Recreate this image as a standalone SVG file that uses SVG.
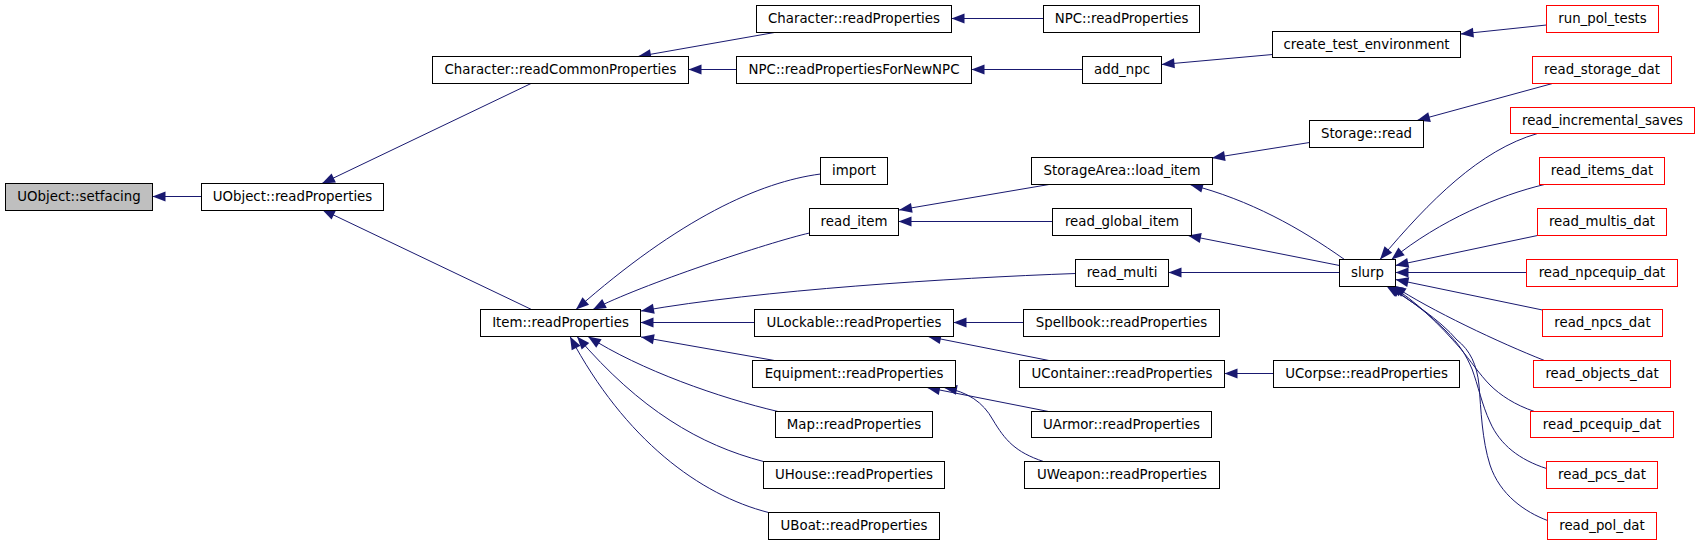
<svg xmlns="http://www.w3.org/2000/svg" width="1701" height="544" viewBox="0 0 1701 544">
<style>
.n rect{fill:#fff;stroke:#000;stroke-width:1}
.r rect{stroke:#f00}
.g rect{fill:#bfbfbf}
text{font-family:"DejaVu Sans","Liberation Sans",sans-serif;font-size:13.33px;text-anchor:middle;fill:#000}
.e path{fill:none;stroke:#191970;stroke-width:1;marker-end:url(#ah)}
</style>
<defs>
<marker id="ah" markerUnits="userSpaceOnUse" markerWidth="14" markerHeight="11" refX="13" refY="5" orient="auto" overflow="visible">
<path d="M0,0 L13,5 L0,10 z" fill="#191970"/>
</marker>
</defs>
<rect width="1701" height="544" fill="#fff"/>
<g class="e" id="edges">
<path d="M201.5,196.5 L152.5,196.5"/>
<path d="M531,83.5 L322,183.5"/>
<path d="M531.5,309.5 L322,209.5"/>
<path d="M774.5,32.5 L638,56.5"/>
<path d="M736.5,69.5 L688.5,69.5"/>
<path d="M1043.5,18.5 L951.5,18.5"/>
<path d="M1082.5,69.5 L971.5,69.5"/>
<path d="M1272.5,54.5 L1161.5,64.5"/>
<path d="M1546.5,25 L1460.5,34"/>
<path d="M820.5,174 C760,182 680,218 576,309.5"/>
<path d="M809.5,233 C770,242 640,285 593,309.5"/>
<path d="M1075.5,273.5 C950,278 760,290 641,311"/>
<path d="M754.5,322.5 L640.5,322.5"/>
<path d="M774.5,360.5 L641,337"/>
<path d="M778,411.5 C720,398 640,370 588,336.5"/>
<path d="M763.5,461.5 C700,445 640,410 577,336.5"/>
<path d="M768.5,512.5 C700,495 625,440 570,336.5"/>
<path d="M1049,184.5 L899,210"/>
<path d="M1052.5,221.5 L898.5,221.5"/>
<path d="M1023.5,322.5 L953.5,322.5"/>
<path d="M1049,360.5 L928,336.5"/>
<path d="M1048.5,411.5 L927,387.5"/>
<path d="M1043.5,461.5 C1015,452 1005,440 993,420 C983,402 968,392 944,387.5"/>
<path d="M1273.5,373.5 L1224.5,373.5"/>
<path d="M1309.5,142.5 L1212,158"/>
<path d="M1552.5,83.5 L1417,120.5"/>
<path d="M1344.5,259.5 C1300,228 1250,200 1190,184.5"/>
<path d="M1339.5,265.5 L1188,235.5"/>
<path d="M1339.5,272.5 L1168.5,272.5"/>
<path d="M1537.5,133.5 C1480,150 1430,200 1380,259.5"/>
<path d="M1544.5,184.5 C1500,195 1440,220 1391.5,259.5"/>
<path d="M1537.5,235.5 L1395.5,265.5"/>
<path d="M1526.5,272.5 L1395.5,272.5"/>
<path d="M1542.5,310 L1395.5,279.5"/>
<path d="M1544.5,360.5 C1500,343 1430,310 1393,285.5"/>
<path d="M1534.5,411.5 C1515,405 1500,395 1490,385 C1480,375 1470,360 1460,348 C1440,325 1415,300 1390,285.5"/>
<path d="M1546.5,468.5 C1520,460 1500,445 1490,422 C1482,405 1478,385 1472,369 C1466,355 1460,345 1445,330 C1425,310 1405,297 1388,285.5"/>
<path d="M1547.5,520.5 C1525,512 1500,495 1490,465 C1482,440 1481,410 1479,385 C1477,365 1470,350 1457,340 C1440,320 1410,300 1386,285.5"/>
</g>
<g class="n g" id="n_setfacing"><rect x="5.5" y="183.5" width="147" height="27"/><text x="79" y="201">UObject::setfacing</text></g>
<g class="n" id="n_uobj_rp"><rect x="201.5" y="183.5" width="182" height="27"/><text x="292.5" y="201">UObject::readProperties</text></g>
<g class="n" id="n_char_rcp"><rect x="432.5" y="56.5" width="256" height="27"/><text x="560.5" y="74">Character::readCommonProperties</text></g>
<g class="n" id="n_char_rp"><rect x="756.5" y="5.5" width="195" height="27"/><text x="854" y="23">Character::readProperties</text></g>
<g class="n" id="n_npc_rpfnn"><rect x="736.5" y="56.5" width="235" height="27"/><text x="854" y="74">NPC::readPropertiesForNewNPC</text></g>
<g class="n" id="n_npc_rp"><rect x="1043.5" y="5.5" width="156" height="27"/><text x="1121.5" y="23">NPC::readProperties</text></g>
<g class="n" id="n_add_npc"><rect x="1082.5" y="56.5" width="79" height="27"/><text x="1122" y="74">add_npc</text></g>
<g class="n" id="n_create_env"><rect x="1272.5" y="31.5" width="188" height="26"/><text x="1366.5" y="49">create_test_environment</text></g>
<g class="n r" id="n_run_pol_tests"><rect x="1546.5" y="5.5" width="112" height="27"/><text x="1602.5" y="23">run_pol_tests</text></g>
<g class="n r" id="n_read_storage_dat"><rect x="1532.5" y="56.5" width="139" height="27"/><text x="1602" y="74">read_storage_dat</text></g>
<g class="n r" id="n_read_inc"><rect x="1510.5" y="107.5" width="184" height="26"/><text x="1602.5" y="125">read_incremental_saves</text></g>
<g class="n" id="n_storage_read"><rect x="1309.5" y="120.5" width="114" height="27"/><text x="1366.5" y="138">Storage::read</text></g>
<g class="n" id="n_import"><rect x="820.5" y="157.5" width="67" height="27"/><text x="854" y="175">import</text></g>
<g class="n" id="n_sa_load"><rect x="1031.5" y="157.5" width="181" height="27"/><text x="1122" y="175">StorageArea::load_item</text></g>
<g class="n r" id="n_read_items_dat"><rect x="1539.5" y="157.5" width="125" height="27"/><text x="1602" y="175">read_items_dat</text></g>
<g class="n" id="n_read_item"><rect x="809.5" y="208.5" width="89" height="27"/><text x="854" y="226">read_item</text></g>
<g class="n" id="n_read_global_item"><rect x="1052.5" y="208.5" width="139" height="27"/><text x="1122" y="226">read_global_item</text></g>
<g class="n r" id="n_read_multis_dat"><rect x="1537.5" y="208.5" width="129" height="27"/><text x="1602" y="226">read_multis_dat</text></g>
<g class="n" id="n_read_multi"><rect x="1075.5" y="259.5" width="93" height="27"/><text x="1122" y="277">read_multi</text></g>
<g class="n" id="n_slurp"><rect x="1339.5" y="259.5" width="56" height="27"/><text x="1367.5" y="277">slurp</text></g>
<g class="n r" id="n_read_npcequip_dat"><rect x="1526.5" y="259.5" width="151" height="27"/><text x="1602" y="277">read_npcequip_dat</text></g>
<g class="n" id="n_item_rp"><rect x="480.5" y="309.5" width="160" height="27"/><text x="560.5" y="327">Item::readProperties</text></g>
<g class="n" id="n_ulock_rp"><rect x="754.5" y="309.5" width="199" height="27"/><text x="854" y="327">ULockable::readProperties</text></g>
<g class="n" id="n_spellbook_rp"><rect x="1023.5" y="309.5" width="196" height="27"/><text x="1121.5" y="327">Spellbook::readProperties</text></g>
<g class="n r" id="n_read_npcs_dat"><rect x="1542.5" y="309.5" width="120" height="27"/><text x="1602.5" y="327">read_npcs_dat</text></g>
<g class="n" id="n_equip_rp"><rect x="752.5" y="360.5" width="203" height="27"/><text x="854" y="378">Equipment::readProperties</text></g>
<g class="n" id="n_ucont_rp"><rect x="1019.5" y="360.5" width="205" height="27"/><text x="1122" y="378">UContainer::readProperties</text></g>
<g class="n" id="n_ucorpse_rp"><rect x="1273.5" y="360.5" width="186" height="27"/><text x="1366.5" y="378">UCorpse::readProperties</text></g>
<g class="n r" id="n_read_objects_dat"><rect x="1533.5" y="360.5" width="137" height="27"/><text x="1602" y="378">read_objects_dat</text></g>
<g class="n" id="n_map_rp"><rect x="775.5" y="411.5" width="157" height="26"/><text x="854" y="429">Map::readProperties</text></g>
<g class="n" id="n_uarmor_rp"><rect x="1031.5" y="411.5" width="180" height="26"/><text x="1121.5" y="429">UArmor::readProperties</text></g>
<g class="n r" id="n_read_pcequip_dat"><rect x="1530.5" y="411.5" width="143" height="26"/><text x="1602" y="429">read_pcequip_dat</text></g>
<g class="n" id="n_uhouse_rp"><rect x="763.5" y="461.5" width="181" height="27"/><text x="854" y="479">UHouse::readProperties</text></g>
<g class="n" id="n_uweapon_rp"><rect x="1024.5" y="461.5" width="195" height="27"/><text x="1122" y="479">UWeapon::readProperties</text></g>
<g class="n r" id="n_read_pcs_dat"><rect x="1546.5" y="461.5" width="111" height="27"/><text x="1602" y="479">read_pcs_dat</text></g>
<g class="n" id="n_uboat_rp"><rect x="768.5" y="512.5" width="171" height="27"/><text x="854" y="530">UBoat::readProperties</text></g>
<g class="n r" id="n_read_pol_dat"><rect x="1547.5" y="512.5" width="109" height="27"/><text x="1602" y="530">read_pol_dat</text></g>
</svg>
